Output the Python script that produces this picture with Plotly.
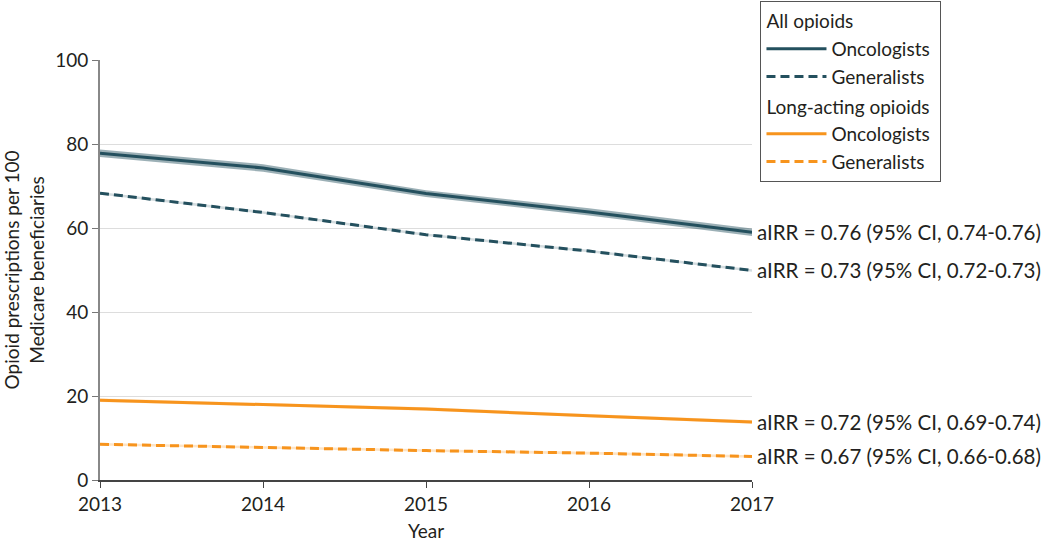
import plotly.graph_objects as go

years = [2013, 2014, 2015, 2016, 2017]
all_onc = [77.8, 74.3, 68.2, 63.8, 59.0]
all_onc_lo = [76.9, 73.4, 67.4, 63.0, 58.1]
all_onc_hi = [78.7, 75.2, 69.0, 64.7, 59.9]
all_gen = [68.3, 63.7, 58.4, 54.5, 49.9]
all_gen_lo = [68.0, 63.4, 58.1, 54.2, 49.6]
all_gen_hi = [68.6, 64.0, 58.7, 54.8, 50.2]
la_onc = [19.0, 18.0, 16.9, 15.3, 13.8]
la_onc_lo = [18.6, 17.6, 16.5, 14.9, 13.4]
la_onc_hi = [19.4, 18.4, 17.3, 15.7, 14.2]
la_gen = [8.5, 7.7, 7.0, 6.4, 5.6]
la_gen_lo = [8.2, 7.4, 6.7, 6.1, 5.3]
la_gen_hi = [8.8, 8.0, 7.3, 6.7, 5.9]
airr_labels = [
    "aIRR = 0.76 (95% CI, 0.74-0.76)",
    "aIRR = 0.73 (95% CI, 0.72-0.73)",
    "aIRR = 0.72 (95% CI, 0.69-0.74)",
    "aIRR = 0.67 (95% CI, 0.66-0.68)",
]

TEAL = "#24505e"
TEAL_BAND = "rgba(36,80,94,0.45)"
ORANGE = "#f7941d"
ORANGE_BAND = "rgba(247,148,29,0.25)"
FONT = "Lato"
TXT = "#231f20"

fig = go.Figure()

def band(lo, hi, color):
    fig.add_trace(go.Scatter(
        x=years + years[::-1], y=hi + lo[::-1], fill="toself",
        fillcolor=color, line=dict(width=0), mode="lines",
        hoverinfo="skip", showlegend=False))

band(all_onc_lo, all_onc_hi, TEAL_BAND)
band(all_gen_lo, all_gen_hi, "rgba(36,80,94,0.2)")
band(la_onc_lo, la_onc_hi, ORANGE_BAND)
band(la_gen_lo, la_gen_hi, ORANGE_BAND)

series = [
    (all_onc, TEAL, "solid", "Oncologists", "all", "All opioids"),
    (all_gen, TEAL, "9px,5px", "Generalists", "all", "All opioids"),
    (la_onc, ORANGE, "solid", "Oncologists", "la", "Long-acting opioids"),
    (la_gen, ORANGE, "9px,5px", "Generalists", "la", "Long-acting opioids"),
]
for vals, col, dash, name, grp, gtitle in series:
    fig.add_trace(go.Scatter(
        x=years, y=vals, mode="lines", name=name,
        line=dict(color=col, width=3, dash=dash),
        legendgroup=grp,
        legendgrouptitle=dict(text=gtitle, font=dict(size=19, color=TXT)),
    ))

for vals, txt in zip([all_onc, all_gen, la_onc, la_gen], airr_labels):
    fig.add_annotation(x=years[-1], y=vals[-1], text=txt, showarrow=False,
                       xanchor="left", yanchor="middle", xshift=3,
                       font=dict(size=20.5, color=TXT))

fig.update_layout(
    width=1050, height=542,
    margin=dict(l=100, r=298, t=60, b=62, autoexpand=False),
    paper_bgcolor="white", plot_bgcolor="white",
    font=dict(family=FONT, size=19, color=TXT),
    showlegend=True,
    legend=dict(x=1.013, y=1.14, xanchor="left", yanchor="top",
                bordercolor="#555", borderwidth=1, bgcolor="white",
                font=dict(size=19, color=TXT), tracegroupgap=2, itemwidth=60,
                groupclick="toggleitem"),
)
fig.update_xaxes(range=[2013, 2017], tickvals=years, ticks="outside", ticklen=6,
                 tickcolor="#444", showline=True, linecolor="#444", linewidth=1.5,
                 showgrid=False, zeroline=False,
                 title=dict(text="Year", standoff=12, font=dict(size=19)),
                 tickfont=dict(size=19))
fig.update_yaxes(range=[0, 100], tickvals=[0, 20, 40, 60, 80, 100], ticks="outside",
                 ticklen=6, tickcolor="#777", showline=True, linecolor="#888", linewidth=2,
                 showgrid=True, gridcolor="#dddddd", zeroline=False,
                 title=dict(text="Opioid prescriptions per 100<br>Medicare beneficiaries",
                            standoff=8, font=dict(size=19)),
                 tickfont=dict(size=19))

fig.write_html("out.html", config={"displayModeBar": False},
               post_script="document.body.style.margin='0';")
